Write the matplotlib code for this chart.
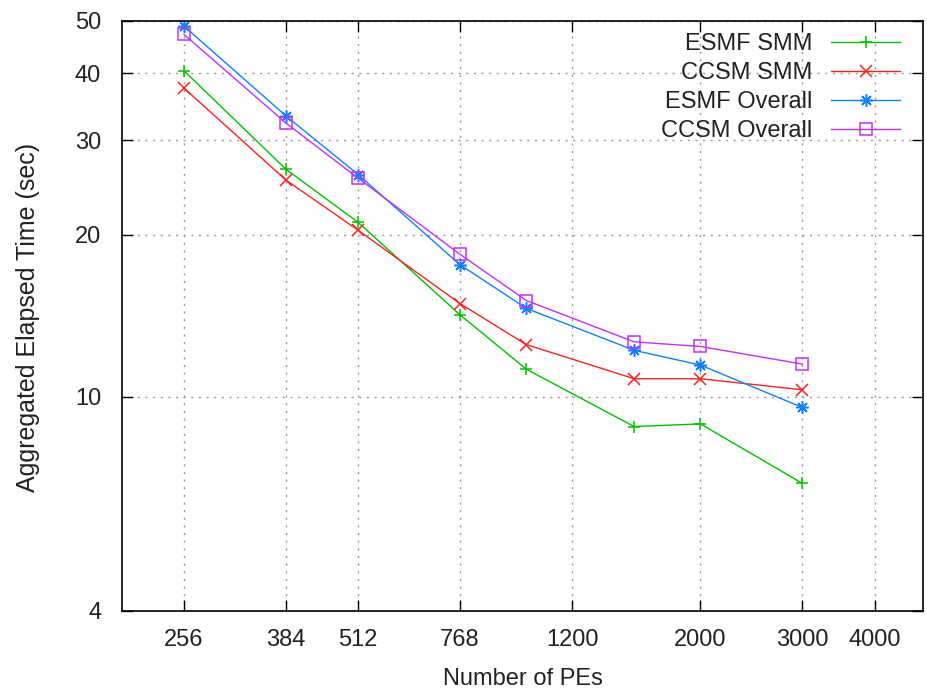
import numpy as np
import matplotlib
matplotlib.use("Agg")
import matplotlib.pyplot as plt
from matplotlib.ticker import FixedLocator, FixedFormatter, NullLocator

plt.rcParams['font.family'] = ['Liberation Sans', 'DejaVu Sans']

# number of PEs on the x axis
pes = [256, 384, 512, 768, 1000, 1536, 2000, 3000]

# elapsed times (sec)
esmf_smm = [40.4, 26.5, 21.1, 14.2, 11.25, 8.8, 8.9, 6.9]
ccsm_smm = [37.5, 25.3, 20.4, 14.9, 12.5, 10.8, 10.8, 10.3]
esmf_overall = [48.9, 33.3, 25.9, 17.6, 14.6, 12.2, 11.45, 9.55]
ccsm_overall = [47.2, 32.3, 25.5, 18.4, 15.1, 12.65, 12.4, 11.5]

xticks = [256, 384, 512, 768, 1200, 2000, 3000, 4000]
yticks = [4, 10, 20, 30, 40, 50]

fig = plt.figure(figsize=(9.27, 6.91), dpi=100)
ax = fig.add_axes([122 / 927, 1 - 610.6 / 691, 801 / 927, 589.6 / 691])

txt = '#222222'
fs = 17

ax.plot(pes, esmf_smm, color='#00c000', lw=1.0, marker='+', ms=9, mew=1.1, label='ESMF SMM')
ax.plot(pes, ccsm_smm, color='#ff2020', lw=1.0, marker='x', ms=8, mew=1.1, label='CCSM SMM')
ax.plot(pes, esmf_overall, color='#1080ff', lw=1.0, marker=(8, 2, 0), ms=9, mew=1.1, label='ESMF Overall')
ax.plot(pes, ccsm_overall, color='#c030ff', lw=1.0, marker='s', ms=8, mew=1.1, mfc='none', label='CCSM Overall')

ax.set_xscale('log')
ax.set_yscale('log')
ax.set_xlim(200, 4850)
ax.set_ylim(4, 50)

ax.xaxis.set_major_locator(FixedLocator(xticks))
ax.xaxis.set_major_formatter(FixedFormatter([str(t) for t in xticks]))
ax.xaxis.set_minor_locator(NullLocator())
ax.yaxis.set_major_locator(FixedLocator(yticks))
ax.yaxis.set_major_formatter(FixedFormatter([str(t) for t in yticks]))
ax.yaxis.set_minor_locator(NullLocator())

ax.tick_params(which='major', direction='in', length=8, width=1, top=True, right=True,
               labelsize=fs, labelcolor=txt)
ax.tick_params(axis='x', pad=13)
ax.tick_params(axis='y', pad=15)

ax.grid(True, color='#999999', linestyle=(0, (1.5, 4)), lw=1)

for s in ax.spines.values():
    s.set_linewidth(1.2)
    s.set_color('black')

ax.set_xlabel('Number of PEs', fontsize=fs, color=txt)
ax.set_ylabel('Aggregated Elapsed Time (sec)', fontsize=18, color=txt, va='center')
ax.xaxis.set_label_coords(0.5, -0.097)
ax.yaxis.set_label_coords(-0.1174, 0.498)

leg = ax.legend(loc='upper right', bbox_to_anchor=(0.971, 0.98), frameon=False,
                markerfirst=False, fontsize=fs, handlelength=2.9, handletextpad=0.8,
                labelspacing=0.3, borderpad=0, borderaxespad=0)
for t in leg.get_texts():
    t.set_color(txt)
# right-align entries like gnuplot's key
for col in leg._legend_handle_box.get_children():
    col.align = 'right'

fig.savefig('out.png', dpi=100)
